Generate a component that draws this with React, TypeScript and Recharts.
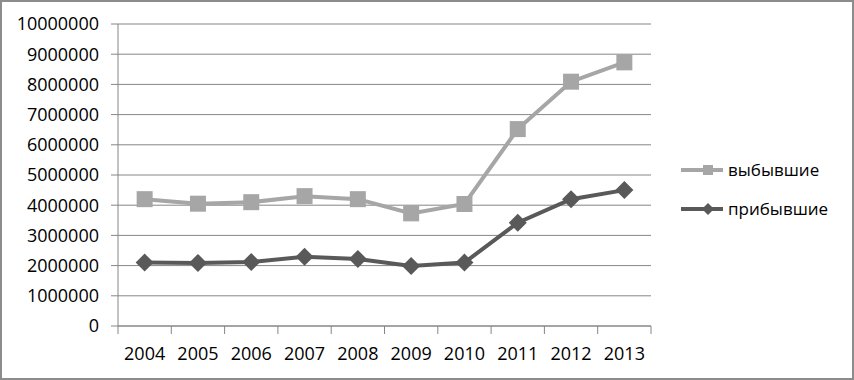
import { CartesianGrid, Legend, Line, LineChart, XAxis, YAxis } from "recharts";

const years = ["2004", "2005", "2006", "2007", "2008", "2009", "2010", "2011", "2012", "2013"];
const departed = [4200000, 4050000, 4100000, 4300000, 4200000, 3730000, 4040000, 6520000, 8090000, 8730000];
const arrived = [2100000, 2090000, 2120000, 2290000, 2220000, 1990000, 2100000, 3420000, 4200000, 4500000];
const yTicks = [0, 1000000, 2000000, 3000000, 4000000, 5000000, 6000000, 7000000, 8000000, 9000000, 10000000];

const data = years.map((year, i) => ({ year, departed: departed[i], arrived: arrived[i] }));

const LIGHT = "#A6A6A6";
const DARK = "#595959";
const AXIS = "#868686";
const FONT = "'Open Sans', 'Noto Sans', sans-serif";

const PLOT_W = 533;
const BAND = PLOT_W / years.length;

function SquareDot({ cx, cy }: any) {
  if (cx == null || cy == null) return null;
  return <rect x={cx - 8} y={cy - 8} width={16} height={16} fill={LIGHT} />;
}

function DiamondDot({ cx, cy }: any) {
  if (cx == null || cy == null) return null;
  const r = 9;
  return <polygon points={`${cx},${cy - r} ${cx + r},${cy} ${cx},${cy + r} ${cx - r},${cy}`} fill={DARK} />;
}

function XTick({ x, y, payload, index }: any) {
  const left = x - BAND / 2;
  return (
    <g>
      <line x1={left} y1={y} x2={left} y2={y + 8} stroke={AXIS} />
      {index === years.length - 1 && (
        <line x1={x + BAND / 2} y1={y} x2={x + BAND / 2} y2={y + 8} stroke={AXIS} />
      )}
      <text x={x} y={y + 34} textAnchor="middle" fill="#000" fontSize={18} fontFamily={FONT}>
        {payload.value}
      </text>
    </g>
  );
}

function LegendBox() {
  const rows = [
    { label: "выбывшие", color: LIGHT, shape: "square" },
    { label: "прибывшие", color: DARK, shape: "diamond" },
  ];
  return (
    <svg width={170} height={80}>
      {rows.map((r, i) => {
        const cy = 15 + i * 39;
        return (
          <g key={r.label}>
            <line x1={1} y1={cy} x2={43} y2={cy} stroke={r.color} strokeWidth={4} />
            {r.shape === "square" ? (
              <rect x={23} y={cy - 5} width={10} height={10} fill={r.color} />
            ) : (
              <polygon points={`28,${cy - 6} 34,${cy} 28,${cy + 6} 22,${cy}`} fill={r.color} />
            )}
            <text x={48} y={cy + 6} fontSize={17} fontFamily={FONT} fill="#000">
              {r.label}
            </text>
          </g>
        );
      })}
    </svg>
  );
}

export default function App() {
  return (
    <div style={{ position: "absolute", left: 0, top: 0, width: 854, height: 380, background: "#fff" }}>
      <LineChart width={854} height={380} data={data} margin={{ top: 24, right: 203, bottom: 0, left: 0 }}>
        <CartesianGrid vertical={false} stroke={AXIS} strokeDasharray="" />
        <XAxis
          dataKey="year"
          stroke={AXIS}
          tickLine={false}
          tickSize={0}
          tickMargin={0}
          tick={<XTick />}
          interval={0}
          height={54}
          padding={{ left: BAND / 2, right: BAND / 2 }}
        />
        <YAxis
          domain={[0, 10000000]}
          ticks={yTicks}
          interval={0}
          width={118}
          stroke={AXIS}
          tickSize={7}
          tickMargin={12}
          tick={{ fill: "#000", fontSize: 18, fontFamily: FONT }}
        />
        <Legend
          layout="vertical"
          align="center"
          verticalAlign="middle"
          content={<LegendBox />}
          wrapperStyle={{ position: "absolute", left: 680, top: 155, width: 170 }}
        />
        <Line
          dataKey="departed"
          name="выбывшие"
          stroke={LIGHT}
          strokeWidth={4}
          dot={<SquareDot />}
          activeDot={false}
          isAnimationActive={false}
        />
        <Line
          dataKey="arrived"
          name="прибывшие"
          stroke={DARK}
          strokeWidth={4}
          dot={<DiamondDot />}
          activeDot={false}
          isAnimationActive={false}
        />
      </LineChart>
      <div
        style={{
          position: "absolute",
          left: 0,
          top: 0,
          width: 854,
          height: 380,
          boxSizing: "border-box",
          border: "2px solid #8C8C8C",
          pointerEvents: "none",
        }}
      />
    </div>
  );
}
